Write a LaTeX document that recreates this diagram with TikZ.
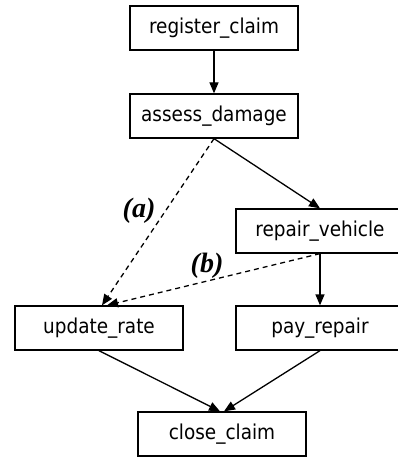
\documentclass[tikz,border=0pt]{standalone}
\usepackage{fontspec}
\setmainfont{DejaVu Sans Condensed}
\newfontfamily\labelfont{Liberation Serif}
\usetikzlibrary{arrows.meta}
\begin{document}
\begin{tikzpicture}[x=1pt, y=-1pt,
	task/.style={draw, line width=1.3pt, minimum width=168pt, minimum height=44pt,
		inner sep=0pt, font=\fontsize{20.5}{24}\selectfont},
	flow/.style={-{Triangle[length=11pt, width=9pt]}, line width=1.3pt},
	lbl/.style={font=\labelfont\bfseries\itshape\fontsize{28}{32}\selectfont}]
	\useasboundingbox (0,0) rectangle (397,457);

	% Tasks
	\node[task] (register) at (214,28) {register\_claim};
	\node[task] (assess) at (214,116) {assess\_damage};
	\node[task] (repair) at (320,231) {repair\_vehicle};
	\node[task] (update) at (99,328) {update\_rate};
	\node[task] (pay) at (320,328) {pay\_repair};
	\node[task] (close) at (222,434) {close\_claim};

	% Flow
	\draw[flow] (register) -- (assess);
	\draw[flow] (assess.south) -- (repair.north);
	\draw[flow] (repair.south) -- (pay.north);
	\draw[flow] (update.south) -- ([xshift=-2pt]close.north);
	\draw[flow] (pay.south) -- ([xshift=2pt]close.north);

	% Dashed dependencies
	\draw[flow, dash pattern=on 5pt off 4pt] (assess.south) -- ([xshift=3pt]update.north);
	\draw[flow, dash pattern=on 5pt off 4pt] (repair.south) -- ([xshift=8pt]update.north);

	% Labels
	\node[lbl] (la) at (139,211) {(a)};
	\node[lbl] (lb) at (207,266) {(b)};
\end{tikzpicture}
\end{document}
